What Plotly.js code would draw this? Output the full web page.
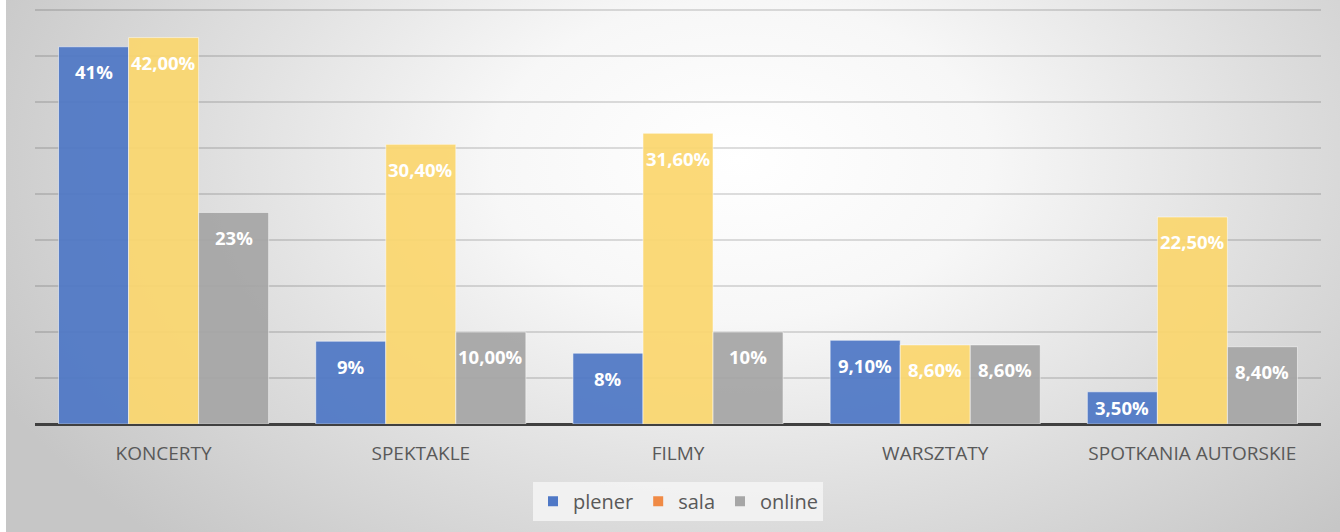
<!DOCTYPE html>
<html>
<head>
<meta charset="utf-8">
<script src="https://cdn.plot.ly/plotly-3.0.1.min.js"></script>
<style>
  html, body { margin: 0; padding: 0; background: #ffffff; }
  #bg {
    position: absolute; left: 6px; top: 0; width: 1334px; height: 532px;
    background: radial-gradient(ellipse 62% 100% at 55% 30%, #ffffff 0%, #f7f7f7 30%, #dedede 65%, #c6c6c6 100%);
  }
  #chart { position: absolute; left: 0; top: 0; width: 1340px; height: 532px; }
</style>
</head>
<body>
<div id="bg"></div>
<div id="chart"></div>
<script>
const categories = ["KONCERTY", "SPEKTAKLE", "FILMY", "WARSZTATY", "SPOTKANIA AUTORSKIE"];
const seriesNames = ["plener", "sala", "online"];
const plener = [41, 9, 7.7, 9.1, 3.5];
const sala = [42, 30.4, 31.6, 8.6, 22.5];
const online = [23, 10, 10, 8.6, 8.4];
const plenerLabels = ["41%", "9%", "8%", "9,10%", "3,50%"];
const salaLabels = ["42,00%", "30,40%", "31,60%", "8,60%", "22,50%"];
const onlineLabels = ["23%", "10,00%", "10%", "8,60%", "8,40%"];

const barColors = ["#4f78c6", "#fbd76f", "#a6a6a6"];
const legendColors = ["#4f78c6", "#f08a45", "#a6a6a6"];
const values = [plener, sala, online];
const labels = [plenerLabels, salaLabels, onlineLabels];

const bargap = 0.183;
const barW = (1 - bargap) / 3;

const traces = [];
values.forEach((vals, i) => {
  traces.push({
    type: "bar", x: categories, y: vals, name: seriesNames[i],
    showlegend: false, hoverinfo: "skip",
    marker: { color: barColors[i], opacity: 0.93, line: { color: "rgba(255,255,255,0.55)", width: 1 } }
  });
});
seriesNames.forEach((n, i) => {
  traces.push({
    type: "scatter", mode: "markers", x: [null], y: [null], name: n,
    marker: { symbol: "square", size: 10, color: legendColors[i] }
  });
});

const annotations = [];
values.forEach((vals, i) => {
  vals.forEach((v, c) => {
    annotations.push({
      xref: "x", yref: "y", x: c + (i - 1) * barW, y: Math.max(v - 2.7, v / 2),
      yanchor: "middle", xanchor: "center", showarrow: false,
      text: labels[i][c],
      font: { family: "Open Sans", size: 18.5, color: "#ffffff", weight: "bold" }
    });
  });
});

const layout = {
  width: 1340, height: 532,
  margin: { l: 35, r: 19, t: 4, b: 108 },
  paper_bgcolor: "rgba(0,0,0,0)", plot_bgcolor: "rgba(0,0,0,0)",
  barmode: "group", bargap: bargap, bargroupgap: 0,
  font: { family: "Open Sans", color: "#595959" },
  xaxis: {
    type: "category", showgrid: false, showline: false, ticks: "",
    tickfont: { size: 19, color: "#595959" }, ticklabelstandoff: 16,
    range: [-0.5, 4.5]
  },
  yaxis: {
    range: [0, 45.65], dtick: 5, showticklabels: false,
    showgrid: true, gridcolor: "rgba(0,0,0,0.13)", gridwidth: 2,
    zeroline: true, zerolinecolor: "#404040", zerolinewidth: 3, ticks: ""
  },
  showlegend: true,
  legend: {
    orientation: "h", x: 0.5, xanchor: "center", y: -0.184, yanchor: "middle",
    bgcolor: "rgba(245,245,245,0.85)", font: { size: 20, color: "#595959" },
    itemwidth: 30, tracegroupgap: 0
  },
  annotations: annotations
};

Plotly.newPlot("chart", traces, layout, { displayModeBar: false, staticPlot: true });
</script>
</body>
</html>
